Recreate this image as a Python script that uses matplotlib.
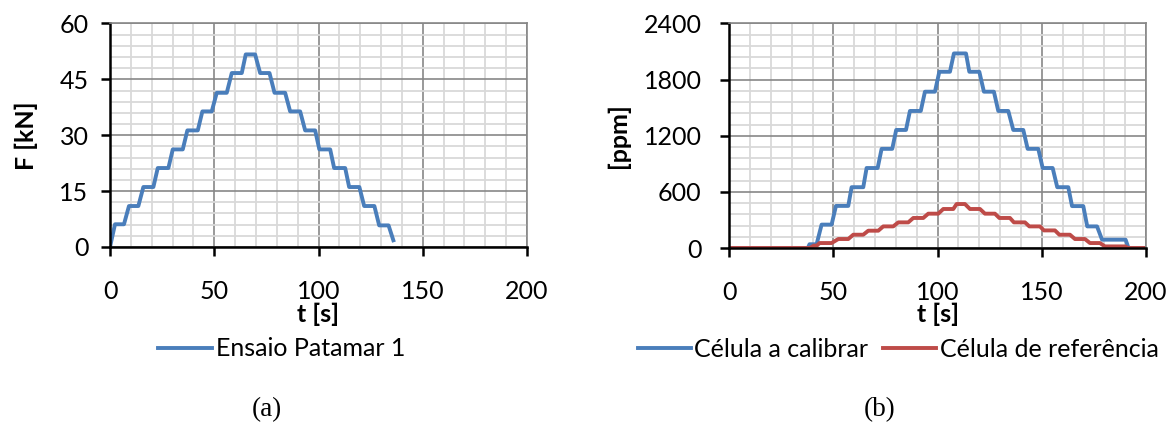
import numpy as np
import matplotlib
matplotlib.use('Agg')
import matplotlib.pyplot as plt
from matplotlib.ticker import MultipleLocator

# (a) ensaio patamar 1
t_a = [0, 2.4, 6.7, 9.1, 13.6, 16.0, 20.8, 22.9, 28.0, 30.1, 34.9, 37.1, 42.1, 44.3, 48.8, 51.2,
       56.0, 58.4, 63.2, 65.1, 69.6, 72.0, 76.5, 78.9, 84.0, 86.4, 91.2, 93.6, 98.4, 100.4,
       105.6, 107.5, 112.8, 114.7, 119.6, 121.9, 126.8, 129.1, 133.6, 135.9]
F_a = [0, 6.1, 6.1, 11.0, 11.0, 16.1, 16.1, 21.2, 21.2, 26.2, 26.2, 31.3, 31.3, 36.4, 36.4, 41.4,
       41.4, 46.7, 46.7, 51.7, 51.7, 46.7, 46.7, 41.4, 41.4, 36.4, 36.4, 31.3, 31.3, 26.2,
       26.2, 21.2, 21.2, 16.1, 16.1, 11.0, 11.0, 5.8, 5.8, 1.8]

# (b) celula a calibrar / celula de referencia
t_cal = [0, 37.7, 38.5, 41.9, 44.3, 49.1, 51.2, 57.1, 58.7, 64.3, 65.9, 71.2, 73.1, 78.2, 80.1, 84.8,
         86.7, 91.9, 93.9, 98.7, 100.8, 105.9, 107.8, 113.6, 115.2, 120.0, 122.2, 127.0, 129.1, 133.9,
         136.3, 141.1, 143.2, 148.3, 150.4, 155.2, 157.4, 162.7, 164.5, 169.9, 171.8, 176.5, 178.9,
         190.2, 191.6, 200]
e_cal = [0, 0, 40, 40, 250, 250, 450, 450, 650, 650, 855, 855, 1060, 1060, 1262, 1262,
         1465, 1465, 1671, 1671, 1884, 1884, 2080, 2080, 1884, 1884, 1671, 1671, 1465, 1465,
         1262, 1262, 1060, 1060, 855, 855, 650, 650, 448, 448, 231, 231, 89,
         89, 0, 0]
t_ref = [0, 38.7, 40.5, 42.0, 43.3, 49.1, 52.3, 57.1, 59.5, 64.3, 66.7, 71.5, 73.9, 78.7, 81.1, 85.9,
         88.3, 93.1, 95.5, 100.3, 102.7, 107.5, 109.1, 113.1, 115.5, 120.3, 122.7, 127.5, 129.6, 134.7,
         136.6, 141.9, 144.0, 149.1, 151.0, 156.3, 158.4, 163.5, 165.9, 170.7, 173.1, 177.9, 180.3,
         189.9, 191.5, 200]
e_ref = [0, 0, 25, 25, 53, 53, 96, 96, 142, 142, 185, 185, 231, 231, 274, 274,
         321, 321, 367, 367, 417, 417, 470, 470, 417, 417, 367, 367, 321, 321,
         274, 274, 231, 231, 188, 188, 142, 142, 96, 96, 53, 53, 17,
         17, 0, 0]

plt.rcParams['font.family'] = ['Lato', 'DejaVu Sans']
fs = 18
blue = '#4a7ebb'
red = '#be4b48'

fig = plt.figure(figsize=(11.7, 4.23), dpi=100)
ax1 = fig.add_axes([110/1170, 1-247/423, 417/1170, 223.5/423])
ax2 = fig.add_axes([729.3/1170, 1-248/423, 416.7/1170, 224.5/423])


def style(ax, ymax, ymaj, ymin, ypad):
    ax.set_xlim(0, 200)
    ax.set_ylim(0, ymax)
    ax.xaxis.set_major_locator(MultipleLocator(50))
    ax.xaxis.set_minor_locator(MultipleLocator(10))
    ax.yaxis.set_major_locator(MultipleLocator(ymaj))
    ax.yaxis.set_minor_locator(MultipleLocator(ymin))
    ax.grid(which='minor', color='#d9d9d9', lw=1.3)
    ax.grid(which='major', color='#878787', lw=1.2)
    ax.set_axisbelow(True)
    for s in ['top', 'right']:
        ax.spines[s].set_color('#878787')
        ax.spines[s].set_linewidth(1.2)
    for s in ['left', 'bottom']:
        ax.spines[s].set_color('black')
        ax.spines[s].set_linewidth(1.8)
    ax.tick_params(which='minor', length=0)
    ax.tick_params(axis='x', which='major', direction='out', length=6.5, width=1.8, pad=17.5, labelsize=fs)
    ax.tick_params(axis='y', which='major', direction='out', length=6.5, width=1.8, pad=ypad, labelsize=fs)


style(ax1, 60, 15, 3, 9)
style(ax2, 2400, 600, 120, 13.4)

ax1.plot(t_a, F_a, color=blue, lw=2.8, label='Ensaio Patamar 1', solid_joinstyle='round')
ax2.plot(t_cal, e_cal, color=blue, lw=2.8, label='Célula a calibrar', solid_joinstyle='round')
ax2.plot(t_ref, e_ref, color=red, lw=2.8, label='Célula de referência', solid_joinstyle='round')

ax1.set_xlabel('t [s]', fontsize=fs, fontweight='bold')
ax1.set_ylabel('F [kN]', fontsize=fs, fontweight='bold')
ax2.set_xlabel('t [s]', fontsize=fs, fontweight='bold')
ax2.set_ylabel('[ppm]', fontsize=fs, fontweight='bold')
ax1.xaxis.set_label_coords(0.5, -0.30)
ax2.xaxis.set_label_coords(0.5, -0.295)
ax1.xaxis.label.set_verticalalignment('center')
ax2.xaxis.label.set_verticalalignment('center')
ax1.yaxis.set_label_coords(-0.201, 0.5)
ax2.yaxis.set_label_coords(-0.267, 0.5)
ax1.yaxis.label.set_verticalalignment('center')
ax2.yaxis.label.set_verticalalignment('center')

ax1.legend(loc='center left', bbox_to_anchor=((158-110)/417, (247-349)/223.5), frameon=False,
           fontsize=fs, handlelength=2.15, handletextpad=0.15, borderpad=0, borderaxespad=0)
ax2.legend(loc='center left', bbox_to_anchor=((638-729.3)/416.7, (248-349)/224.5), frameon=False,
           fontsize=fs, ncol=2, handlelength=2.1, handletextpad=0.15, columnspacing=0.6,
           borderpad=0, borderaxespad=0)

fig.text(267/1170, 1-410/423, '(a)', family='Liberation Serif', fontsize=19.5, ha='center', va='center')
fig.text(880/1170, 1-410/423, '(b)', family='Liberation Serif', fontsize=19.5, ha='center', va='center')

fig.savefig('out.png', dpi=100)
